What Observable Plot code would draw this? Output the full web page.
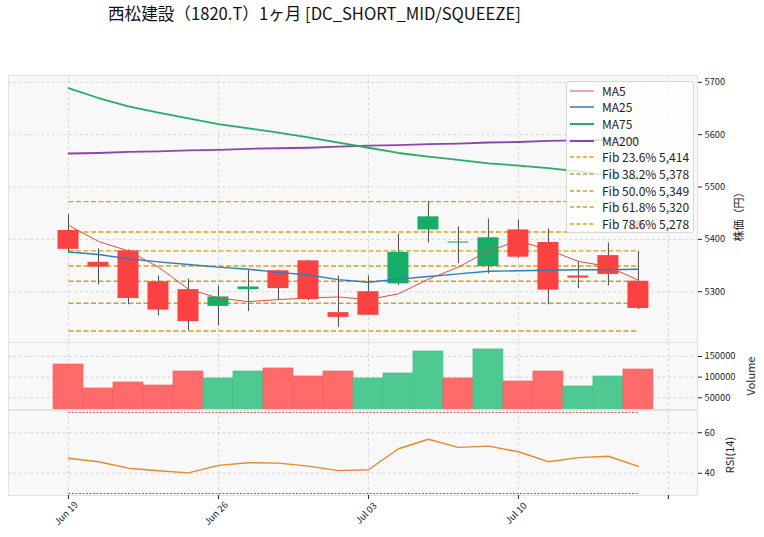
<!DOCTYPE html>
<html><head><meta charset="utf-8">
<script src="https://cdn.jsdelivr.net/npm/d3@7"></script>
<script src="https://cdn.jsdelivr.net/npm/@observablehq/plot@0.6"></script>
<style>
body{margin:0;background:#fff;font-family:"Noto Sans CJK JP","Noto Sans",sans-serif;}
#wrap{position:relative;width:764px;height:537px;overflow:hidden;background:#fff;}
.vlab{position:absolute;transform:translate(-50%,-50%) rotate(-90deg);font-size:11px;color:#222;white-space:nowrap;line-height:1;}
#title{position:absolute;left:108px;top:4px;font-size:16.6px;color:#111;white-space:nowrap;line-height:1.2;}
#legend{position:absolute;left:566px;top:81px;width:128px;height:152px;background:rgba(255,255,255,0.8);border:1px solid #d8d8d8;border-radius:3px;box-sizing:border-box;}
.lrow{position:absolute;left:0;height:16px;font-size:12px;color:#222;white-space:nowrap;line-height:16px;}
.lrow svg{position:absolute;left:3px;top:0;}
.lrow span{position:absolute;left:35px;top:0;}
</style></head><body><div id="wrap">
<div id="title">西松建設（1820.T）1ヶ月 [DC_SHORT_MID/SQUEEZE]</div>
</div>
<script>
// ---- data ----
const dates = ["Jun 19","Jun 20","Jun 21","Jun 22","Jun 23","Jun 26","Jun 27","Jun 28","Jun 29","Jun 30",
               "Jul 03","Jul 04","Jul 05","Jul 06","Jul 07","Jul 10","Jul 11","Jul 12","Jul 13","Jul 14"];
const opens  = [5417,5356,5378,5319,5304,5272,5304,5340,5359,5260,5300,5315,5418,5393,5348,5418,5394,5330,5369,5320];
const highs  = [5447,5382,5380,5330,5324,5311,5340,5341,5360,5330,5330,5410,5472,5424,5439,5437,5420,5357,5393,5377];
const lows   = [5375,5313,5275,5254,5225,5235,5262,5283,5283,5232,5255,5312,5393,5354,5334,5364,5275,5306,5311,5266];
const closes = [5381,5347,5287,5265,5243,5290,5309,5306,5285,5251,5255,5375,5443,5395,5403,5366,5303,5326,5333,5268];
const ma5    = [5427,5396,5378,5347,5305,5288,5281,5285,5288,5290,5285,5296,5324,5347,5378,5397,5380,5358,5348,5322];
const ma25   = [5376,5371,5363,5357,5352,5347,5343,5337,5332,5323,5318,5324,5329,5334,5339,5340,5341,5342,5342,5343];
const ma75   = [5689,5670,5654,5642,5631,5620,5612,5604,5595,5585,5575,5565,5558,5552,5545,5541,5536,5530,5522,5514];
const ma200  = [5564,5565,5567,5568,5570,5571,5573,5574,5575,5577,5579,5580,5582,5583,5585,5586,5588,5589,5590,5592];
const volumes= [130600,72600,87100,79800,113700,96800,113700,121000,101600,113700,96800,108900,162100,96800,167000,89500,113700,77400,101600,118500];
const rsi    = [47.4,45.7,42.5,41.2,40.2,43.9,45.2,45.0,43.5,41.3,41.7,52.1,56.8,52.8,53.4,50.6,45.7,47.7,48.4,43.4];
const fibRatios = ["0%","23.6%","38.2%","50.0%","61.8%","78.6%","100%"];
const fibLevels = [5472,5414,5378,5349,5320,5278,5225];
const rsiLevels = [70,30];
const xTicks = [0,5,10,15,20];
const xTickLabels = ["Jun 19","Jun 26","Jul 03","Jul 10",""];
const priceTicks = [5300,5400,5500,5600,5700];
const volTicks = [50000,100000,150000];
const rsiTicks = [40,60];
const signalMarker = [{i:19, p:5428}];

// ---- styles ----
const C = {up:"#16ad66", down:"#fb4141", volUp:"#4ec991", volDown:"#ff6b6b", wick:"#4a4a4a",
  ma5:"#e2503c", ma25:"#2c7cbf", ma75:"#24ad63", ma200:"#8e44ad", fib:"#d4a21a", rsi:"#e8892c",
  rsiHi:"#e05a5a", rsiLo:"#3f7fb8", grid:"#cfcfcf", bg:"#f8f8f8", border:"#e2e2e2"};
const FONT = '"Noto Sans CJK JP","Noto Sans",sans-serif';
const W = 764, ML = 8, MR = 67;
const xDomain = [-2, 20.97];

const bars = dates.map((d,i)=>({i, d, o:opens[i], h:highs[i], l:lows[i], c:closes[i],
  v:volumes[i], r:rsi[i], m5:ma5[i], m25:ma25[i], m75:ma75[i], m200:ma200[i],
  up: closes[i] >= opens[i], vup: i>0 && closes[i] >= closes[i-1]}));

const gridStyle = {stroke:C.grid, strokeOpacity:1, strokeDasharray:"3,2.5", strokeWidth:0.8};
const axisStyle = {anchor:"right", tickSize:4, tickPadding:3, label:null, fontSize:9.3, tickFormat:d=>String(d)};

const wrap = document.getElementById("wrap");
function place(el, top){ el.style.position="absolute"; el.style.left="0px"; el.style.top=top+"px"; wrap.appendChild(el); }

// ---- main price panel ----
const main = Plot.plot({
  width:W, height:343, marginTop:75, marginBottom:1, marginLeft:ML, marginRight:MR,
  x:{domain:xDomain, axis:null},
  y:{domain:[5203,5713], axis:null},
  style:{fontFamily:FONT, background:"transparent", overflow:"visible", color:"#222"},
  marks:[
    Plot.frame({fill:C.bg, stroke:null}),
    Plot.gridX({ticks:xTicks, ...gridStyle}),
    Plot.gridY({ticks:priceTicks, ...gridStyle}),
    Plot.axisY({ticks:priceTicks, ...axisStyle}),
    Plot.link(fibLevels, {x1:0, x2:19, y1:d=>d, y2:d=>d, stroke:C.fib, strokeWidth:1.4, strokeDasharray:"5,2.5"}),
    Plot.line(bars, {x:"i", y:"m200", stroke:C.ma200, strokeWidth:1.8}),
    Plot.line(bars, {x:"i", y:"m75", stroke:C.ma75, strokeWidth:1.8}),
    Plot.ruleX(bars, {x:"i", y1:"l", y2:"h", stroke:C.wick, strokeWidth:1}),
    Plot.rect(bars, {x1:d=>d.i-0.35, x2:d=>d.i+0.35, y1:"o", y2:"c", fill:d=>d.up?C.up:C.down}),
    Plot.line(bars, {x:"i", y:"m25", stroke:C.ma25, strokeWidth:1.4}),
    Plot.line(bars, {x:"i", y:"m5", stroke:C.ma5, strokeWidth:1}),
    Plot.dot(signalMarker, {x:"i", y:"p", symbol:"square", r:5, fill:C.down}),
    Plot.frame({stroke:C.border})
  ]
});
place(main, 0);

// ---- volume panel ----
const vol = Plot.plot({
  width:W, height:67, marginTop:0, marginBottom:0, marginLeft:ML, marginRight:MR,
  x:{domain:xDomain, axis:null},
  y:{domain:[21700,183800], axis:null},
  style:{fontFamily:FONT, background:"transparent", overflow:"visible", color:"#222"},
  marks:[
    Plot.frame({fill:C.bg, stroke:null}),
    Plot.gridX({ticks:xTicks, ...gridStyle}),
    Plot.gridY({ticks:volTicks, ...gridStyle}),
    Plot.axisY({ticks:volTicks, ...axisStyle}),
    Plot.rect(bars, {x1:d=>d.i-0.5, x2:d=>d.i+0.5, y1:0, y2:"v", clip:true,
      fill:d=>d.vup?C.volUp:C.volDown, stroke:d=>d.vup?"#45bf87":"#f25c5c", strokeWidth:0.6}),
    Plot.frame({stroke:C.border})
  ]
});
place(vol, 342);

// ---- RSI panel ----
const rsiPlot = Plot.plot({
  width:W, height:128, marginTop:1, marginBottom:42, marginLeft:ML, marginRight:MR,
  x:{domain:xDomain, axis:null},
  y:{domain:[29,71], axis:null},
  style:{fontFamily:FONT, background:"transparent", overflow:"visible", color:"#222"},
  marks:[
    Plot.frame({fill:C.bg, stroke:null}),
    Plot.gridX({ticks:xTicks, ...gridStyle}),
    Plot.gridY({ticks:rsiTicks, ...gridStyle}),
    Plot.axisY({ticks:rsiTicks, ...axisStyle}),
    Plot.link(rsiLevels, {x1:0, x2:19, y1:d=>d, y2:d=>d, stroke:(d)=>d>50?C.rsiHi:C.rsiLo, strokeWidth:1, strokeDasharray:"2,1.5"}),
    Plot.line(bars, {x:"i", y:"r", stroke:C.rsi, strokeWidth:1.4}),
    Plot.frame({stroke:C.border}),
    Plot.axisX({ticks:xTicks, tickSize:4, tickFormat:()=>"", anchor:"bottom", label:null}),
    Plot.text(xTicks, {x:d=>d, text:(d,k)=>xTickLabels[k], frameAnchor:"bottom", dy:20, rotate:-45, textAnchor:"middle", fontSize:9.3, fill:"#222"})
  ]
});
place(rsiPlot, 409);

// ---- axis titles ----
function vlabel(text, x, y){ const s=document.createElement("div"); s.className="vlab"; s.textContent=text; s.style.left=x+"px"; s.style.top=y+"px"; wrap.appendChild(s); }
vlabel("株価（円）", 738, 214);
vlabel("Volume", 750, 376);
vlabel("RSI(14)", 729, 455);

// ---- legend ----
const legend = document.createElement("div"); legend.id="legend";
const entries = [
  {label:"MA5", color:C.ma5, w:1, dash:null},
  {label:"MA25", color:C.ma25, w:1.5, dash:null},
  {label:"MA75", color:C.ma75, w:2, dash:null},
  {label:"MA200", color:C.ma200, w:2, dash:null},
  ...fibRatios.slice(1,6).map((r,k)=>({label:`Fib ${r} ${d3.format(",")(fibLevels[k+1])}`, color:C.fib, w:1.4, dash:"4,2.5"}))
];
entries.forEach((e,k)=>{
  const row=document.createElement("div"); row.className="lrow"; row.style.top=(0.5+k*16.7)+"px"; row.style.width="126px";
  row.innerHTML=`<svg width="26" height="16"><line x1="0" x2="24" y1="8" y2="8" stroke="${e.color}" stroke-width="${e.w}" ${e.dash?`stroke-dasharray="${e.dash}"`:""}/></svg><span>${e.label}</span>`;
  legend.appendChild(row);
});
wrap.appendChild(legend);
</script>
</body></html>
